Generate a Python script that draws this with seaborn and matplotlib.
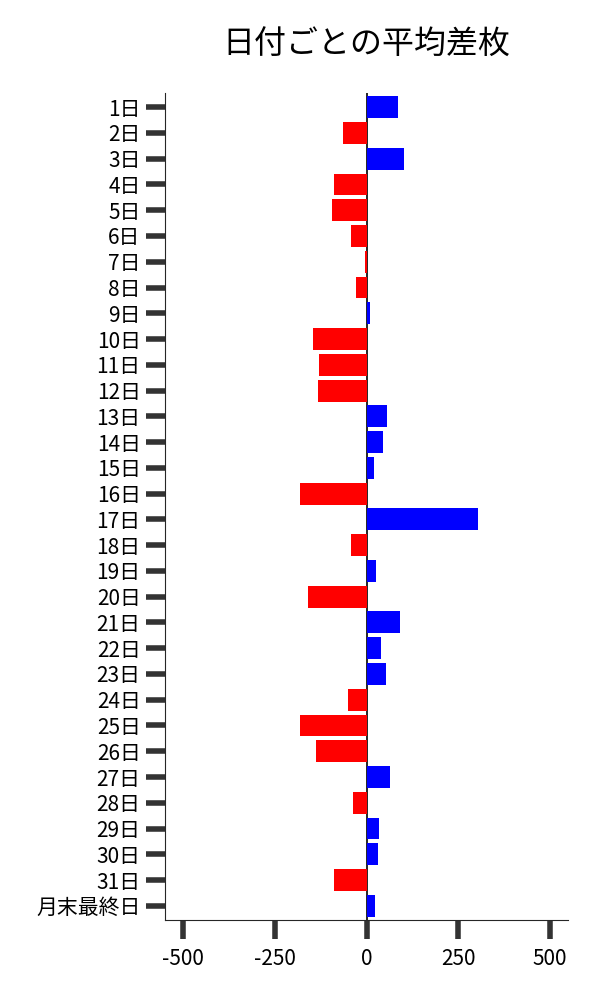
import seaborn as sns
import matplotlib.pyplot as plt
import pandas as pd

days = [f"{i}日" for i in range(1, 32)] + ["月末最終日"]
diff = [87, -65, 103, -90, -95, -43, -5, -30, 8, -147, -130, -133,
        57, 46, 19, -182, 304, -43, 27, -160, 90, 38, 54, -52,
        -182, -139, 65, -38, 35, 30, -90, 22]

df = pd.DataFrame({"day": days, "diff": diff})
df["sign"] = ["plus" if v >= 0 else "minus" for v in df["diff"]]

sns.set_style("ticks")
plt.rcParams['font.family'] = ['Noto Sans CJK JP', 'DejaVu Sans']
plt.rcParams['axes.unicode_minus'] = False

fig = plt.figure(figsize=(6, 10), dpi=100)
ax = fig.add_axes([0.275, 0.08, 0.672, 0.827])
sns.barplot(data=df, x="diff", y="day", hue="sign", palette={"plus": "blue", "minus": "red"},
            dodge=False, legend=False, width=0.85, saturation=1, linewidth=0, ax=ax)
ax.axvline(0, color="black", lw=1.2, zorder=0)
ax.set_xlim(-550, 550)
ax.set_ylim(len(days) - 0.45, -0.55)
ax.set_xticks([-500, -250, 0, 250, 500])
ax.set_xlabel("")
ax.set_ylabel("")
ax.tick_params(axis="both", length=14, width=4, color="#333333", labelsize=15, labelcolor="black")
ax.tick_params(axis="x", pad=6)
sns.despine(ax=ax)
ax.set_title("日付ごとの平均差枚", fontsize=23, pad=28, color="black")
fig.savefig("out.png")
